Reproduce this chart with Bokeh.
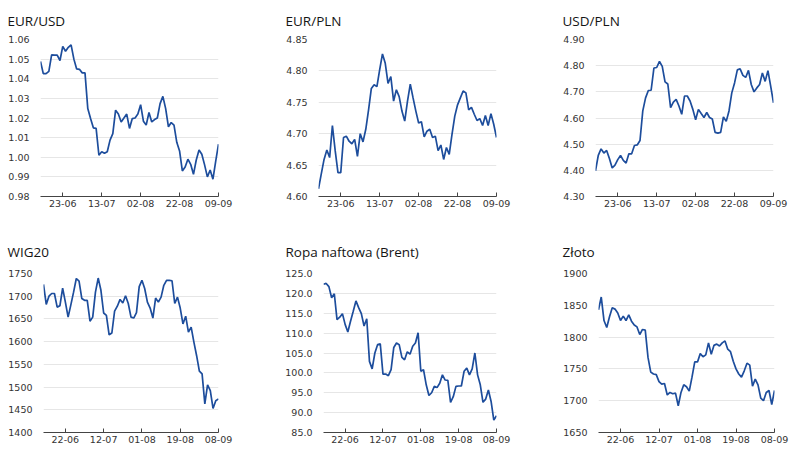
from bokeh.plotting import figure
from bokeh.layouts import column, row
from bokeh.models import Range1d, FixedTicker, PrintfTickFormatter
from bokeh.embed import file_html
from bokeh.resources import INLINE

# ---- data (65 trading days, 13-06 .. 09-09) ----
tick_idx = [8, 22, 36, 50, 64]
ticks_fx = ["23-06", "13-07", "02-08", "22-08", "09-09"]
ticks_mk = ["22-06", "12-07", "01-08", "19-08", "08-09"]

eurusd = [1.0488, 1.0426, 1.0426, 1.0438, 1.0522, 1.0520, 1.0520, 1.0493, 1.0565, 1.0540,
          1.0560, 1.0573, 1.0500, 1.0450, 1.0448, 1.0430, 1.0430, 1.0248, 1.0197, 1.0150,
          1.0147, 1.0010, 1.0028, 1.0020, 1.0028, 1.0087, 1.0120, 1.0240, 1.0220, 1.0180,
          1.0200, 1.0220, 1.0147, 1.0197, 1.0200, 1.0220, 1.0268, 1.0184, 1.0164, 1.0228,
          1.0180, 1.0192, 1.0200, 1.0273, 1.0310, 1.0248, 1.0155, 1.0177, 1.0164, 1.0076,
          1.0032, 0.9930, 0.9950, 0.9990, 0.9964, 0.9913, 0.9986, 1.0037, 1.0015, 0.9961,
          0.9900, 0.9935, 0.9888, 0.9980, 1.0067]

eurpln = [4.612, 4.636, 4.659, 4.674, 4.662, 4.713, 4.673, 4.638, 4.638, 4.694,
          4.696, 4.688, 4.684, 4.691, 4.664, 4.700, 4.687, 4.707, 4.738, 4.772,
          4.778, 4.775, 4.802, 4.827, 4.812, 4.780, 4.791, 4.752, 4.770, 4.759,
          4.736, 4.720, 4.752, 4.779, 4.757, 4.736, 4.717, 4.719, 4.695, 4.704,
          4.707, 4.694, 4.696, 4.673, 4.682, 4.659, 4.678, 4.667, 4.699, 4.728,
          4.746, 4.757, 4.768, 4.765, 4.738, 4.742, 4.731, 4.721, 4.724, 4.713,
          4.729, 4.713, 4.732, 4.715, 4.694]

usdpln = [4.398, 4.457, 4.482, 4.466, 4.476, 4.445, 4.409, 4.420, 4.441, 4.457,
          4.438, 4.428, 4.463, 4.463, 4.495, 4.497, 4.514, 4.627, 4.677, 4.705,
          4.706, 4.791, 4.793, 4.816, 4.797, 4.738, 4.730, 4.640, 4.661, 4.671,
          4.646, 4.614, 4.684, 4.684, 4.665, 4.633, 4.593, 4.633, 4.617, 4.602,
          4.621, 4.602, 4.596, 4.545, 4.542, 4.545, 4.604, 4.587, 4.627, 4.696,
          4.734, 4.784, 4.788, 4.763, 4.755, 4.782, 4.728, 4.700, 4.715, 4.728,
          4.772, 4.740, 4.781, 4.721, 4.658]

wig20 = [1726, 1682, 1700, 1706, 1706, 1676, 1679, 1718, 1687, 1654,
         1681, 1709, 1739, 1733, 1695, 1691, 1691, 1645, 1654, 1709,
         1740, 1713, 1663, 1658, 1615, 1619, 1667, 1678, 1693, 1685,
         1701, 1684, 1654, 1652, 1664, 1721, 1735, 1717, 1687, 1674,
         1652, 1696, 1687, 1698, 1724, 1735, 1735, 1734, 1684, 1698,
         1674, 1639, 1656, 1621, 1632, 1599, 1569, 1535, 1529, 1463,
         1505, 1492, 1453, 1470, 1474]

brent = [122.3, 122.5, 121.7, 118.9, 119.9, 113.4, 114.0, 114.9, 112.2, 110.3,
         113.0, 115.5, 118.1, 116.4, 114.9, 111.8, 113.6, 102.9, 101.0, 105.0,
         107.1, 107.3, 99.7, 99.7, 99.3, 100.8, 106.4, 107.5, 107.1, 103.9,
         103.3, 105.3, 104.7, 106.7, 107.5, 110.1, 100.4, 100.8, 97.0, 94.3,
         95.0, 96.6, 96.3, 97.4, 99.5, 98.2, 98.1, 92.6, 94.0, 96.6,
         96.7, 96.7, 100.4, 101.2, 99.5, 101.0, 105.0, 99.5, 97.0, 92.6,
         93.4, 95.7, 92.8, 88.1, 89.2]

zloto = [1843, 1863, 1826, 1815, 1832, 1846, 1844, 1838, 1826, 1833,
         1826, 1835, 1825, 1819, 1816, 1804, 1812, 1811, 1768, 1745,
         1742, 1741, 1730, 1726, 1727, 1709, 1713, 1711, 1712, 1692,
         1713, 1725, 1722, 1715, 1737, 1761, 1761, 1774, 1769, 1772,
         1791, 1773, 1787, 1789, 1786, 1791, 1794, 1781, 1777, 1762,
         1750, 1742, 1737, 1747, 1759, 1756, 1723, 1734, 1725, 1704,
         1700, 1713, 1716, 1694, 1716]

panels = [
    # title, values, ymin, ymax, step, fmt, xticks, width, left, right, top, bottom, height, title offset, title standoff
    ("EUR/USD", eurusd, 0.98, 1.06, 0.01, "%.2f", ticks_fx, 266, 40, 48, 38, 26, 222, -33, 19),
    ("EUR/PLN", eurpln, 4.60, 4.85, 0.05, "%.2f", ticks_fx, 266, 52, 36, 38, 26, 222, -33, 19),
    ("USD/PLN", usdpln, 4.30, 4.90, 0.10, "%.2f", ticks_fx, 268, 63, 27, 38, 26, 222, -33, 19),
    ("WIG20", wig20, 1400, 1750, 50, "%d", ticks_mk, 266, 43, 48, 51, 20, 230, -36, 26),
    ("Ropa naftowa (Brent)", brent, 85.0, 125.0, 5.0, "%.1f", ticks_mk, 266, 57, 36, 51, 20, 230, -38, 26),
    ("Złoto", zloto, 1650, 1900, 50, "%d", ticks_mk, 268, 66, 26, 51, 20, 230, -36, 26),
]

LINE = "#1d4d9c"
figs = []
for (title, vals, lo, hi, step, fmt, xt, w, left, right, top, bottom, h, toff, tstand) in panels:
    xs = list(range(len(vals)))
    p = figure(width=w, height=h, output_backend="svg", toolbar_location=None,
               x_range=Range1d(0, len(vals) - 1), y_range=Range1d(lo, hi),
               min_border_left=left, min_border_right=right, min_border_top=top,
               min_border_bottom=bottom)
    p.outline_line_color = None
    p.background_fill_color = "white"
    p.border_fill_color = "white"
    p.line(xs, vals, line_color=LINE, line_width=1.7)

    p.title.text = title
    p.title.text_font = "Open Sans"
    p.title.text_font_size = "13.5px"
    p.title.text_font_style = "normal"
    p.title.text_color = "#151515"
    p.title.offset = toff
    p.title.standoff = tstand

    n = int(round((hi - lo) / step))
    p.yaxis.ticker = FixedTicker(ticks=[lo + i * step for i in range(n + 1)])
    p.yaxis.formatter = PrintfTickFormatter(format=fmt)
    p.yaxis.axis_line_color = None
    p.yaxis.major_tick_line_color = None
    p.yaxis.minor_tick_line_color = None
    p.yaxis.major_label_standoff = 5
    p.yaxis.major_label_text_font = "DejaVu Sans"
    p.yaxis.major_label_text_font_size = "9.5px"
    p.yaxis.major_label_text_color = "#333333"

    p.xaxis.ticker = FixedTicker(ticks=tick_idx)
    p.xaxis.major_label_overrides = {i: lab for i, lab in zip(tick_idx, xt)}
    p.xaxis.axis_line_color = "#444444"
    p.xaxis.axis_line_width = 1.2
    p.xaxis.major_tick_line_color = "#444444"
    p.xaxis.major_tick_out = 0
    p.xaxis.major_tick_in = 4
    p.xaxis.minor_tick_line_color = None
    p.xaxis.major_label_standoff = 3
    p.xaxis.major_label_text_font = "DejaVu Sans"
    p.xaxis.major_label_text_font_size = "9.5px"
    p.xaxis.major_label_text_color = "#333333"

    p.xgrid.grid_line_color = None
    p.ygrid.grid_line_color = "#e6e6e6"
    p.ygrid.grid_line_width = 1
    figs.append(p)

layout = column(row(*figs[:3]), row(*figs[3:]))
open("out.html", "w").write(file_html(layout, INLINE))
